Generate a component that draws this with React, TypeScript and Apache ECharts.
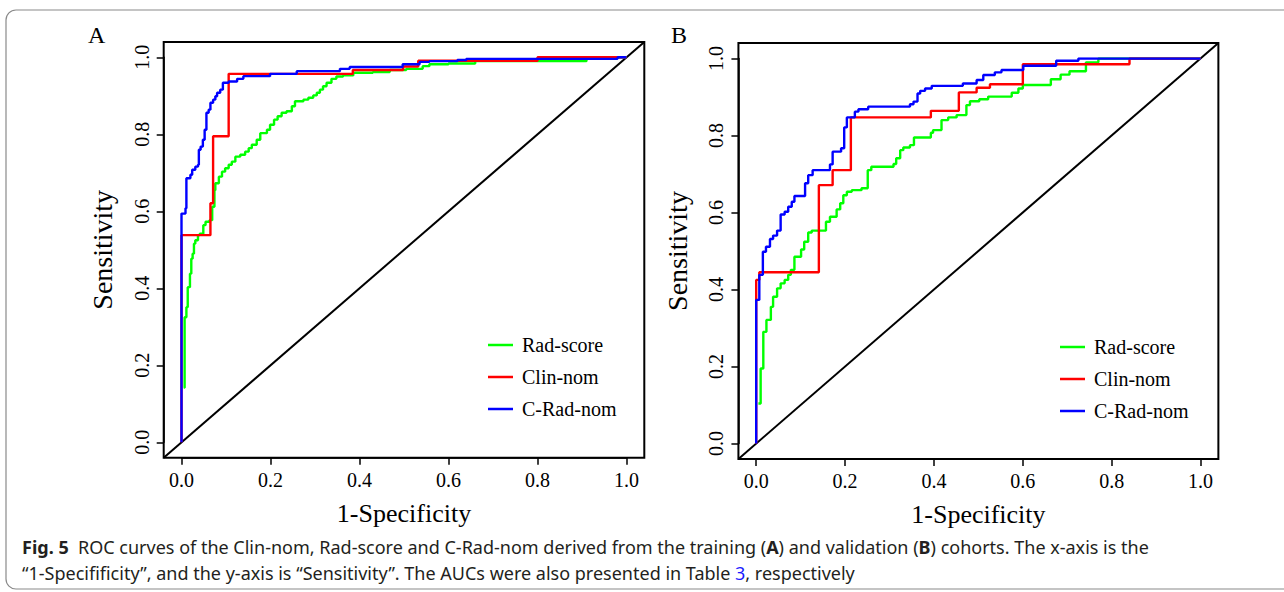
import React, { useEffect, useRef } from "react";
import * as echarts from "echarts";

// ---------- data ----------
const seriesNames = ["Rad-score", "Clin-nom", "C-Rad-nom"];
const panelLabels = ["A", "B"];
const xAxisTitle = "1-Specificity";
const yAxisTitle = "Sensitivity";
const diagonalEnds = [[-0.04, -0.04], [1.04, 1.04]];

// Panel A (training cohort): [1-specificity, sensitivity]
const radScoreA = [
  [0.005, 0.142], [0.007, 0.325], [0.011, 0.351], [0.014, 0.403], [0.019, 0.438], [0.022, 0.477],
  [0.025, 0.49], [0.028, 0.516], [0.031, 0.525], [0.037, 0.538], [0.041, 0.542], [0.049, 0.564],
  [0.054, 0.573], [0.063, 0.577], [0.069, 0.612], [0.074, 0.655], [0.076, 0.673], [0.084, 0.69],
  [0.091, 0.703], [0.098, 0.712], [0.106, 0.721], [0.113, 0.729], [0.121, 0.742], [0.132, 0.747],
  [0.143, 0.755], [0.151, 0.764], [0.158, 0.773], [0.169, 0.786], [0.177, 0.803], [0.192, 0.812],
  [0.199, 0.825], [0.208, 0.838], [0.216, 0.847], [0.225, 0.856], [0.236, 0.86], [0.248, 0.873],
  [0.255, 0.886], [0.274, 0.89], [0.285, 0.895], [0.296, 0.901], [0.304, 0.908], [0.311, 0.916],
  [0.318, 0.925], [0.326, 0.934], [0.337, 0.944], [0.348, 0.95], [0.363, 0.953], [0.386, 0.96],
  [0.43, 0.962], [0.468, 0.967], [0.505, 0.97], [0.542, 0.977], [0.557, 0.982], [0.6, 0.984],
  [0.66, 0.99], [0.91, 1.0], [1.0, 1.0],
];
const clinNomA = [
  [0, 0], [0, 0.538], [0.065, 0.621], [0.071, 0.795], [0.106, 0.957], [0.385, 0.967],
  [0.498, 0.976], [0.532, 0.991], [0.8, 1.0], [1.0, 1.0],
];
const cRadNomA = [
  [0, 0], [0, 0.594], [0.009, 0.608], [0.011, 0.686], [0.02, 0.695], [0.024, 0.708], [0.031, 0.716],
  [0.037, 0.721], [0.039, 0.76], [0.043, 0.768], [0.048, 0.786], [0.052, 0.812], [0.056, 0.856],
  [0.061, 0.864], [0.065, 0.882], [0.071, 0.89], [0.076, 0.899], [0.08, 0.908], [0.087, 0.916],
  [0.093, 0.934], [0.106, 0.937], [0.125, 0.944], [0.139, 0.951], [0.199, 0.957], [0.259, 0.964],
  [0.356, 0.97], [0.378, 0.975], [0.497, 0.982], [0.535, 0.988], [0.557, 0.99], [0.62, 0.993],
  [0.64, 0.996], [0.98, 1.0], [1.0, 1.0],
];

// Panel B (validation cohort)
const radScoreB = [
  [0.005, 0.104], [0.01, 0.195], [0.016, 0.29], [0.023, 0.321], [0.033, 0.355], [0.038, 0.381],
  [0.047, 0.403], [0.055, 0.416], [0.064, 0.425], [0.072, 0.438], [0.078, 0.451], [0.086, 0.485],
  [0.101, 0.504], [0.108, 0.524], [0.117, 0.548], [0.125, 0.553], [0.157, 0.576], [0.166, 0.589],
  [0.181, 0.608], [0.189, 0.624], [0.196, 0.645], [0.204, 0.654], [0.215, 0.658], [0.237, 0.663],
  [0.251, 0.71], [0.259, 0.719], [0.309, 0.726], [0.315, 0.741], [0.324, 0.762], [0.331, 0.769],
  [0.346, 0.775], [0.355, 0.795], [0.393, 0.807], [0.398, 0.814], [0.417, 0.84], [0.432, 0.847],
  [0.451, 0.853], [0.473, 0.879], [0.481, 0.889], [0.502, 0.894], [0.522, 0.901], [0.575, 0.911],
  [0.59, 0.922], [0.6, 0.931], [0.663, 0.946], [0.685, 0.958], [0.705, 0.967], [0.742, 0.99],
  [0.77, 1.0], [1.0, 1.0],
];
const clinNomB = [
  [0, 0], [0, 0.425], [0.007, 0.445], [0.141, 0.671], [0.172, 0.71], [0.213, 0.847], [0.393, 0.864],
  [0.456, 0.912], [0.496, 0.924], [0.526, 0.933], [0.6, 0.985], [0.84, 1.0], [1.0, 1.0],
];
const cRadNomB = [
  [0, 0], [0, 0.373], [0.007, 0.438], [0.015, 0.498], [0.022, 0.511], [0.031, 0.531], [0.038, 0.54],
  [0.047, 0.553], [0.055, 0.595], [0.064, 0.602], [0.072, 0.615], [0.08, 0.628], [0.086, 0.643],
  [0.11, 0.676], [0.117, 0.697], [0.127, 0.71], [0.166, 0.725], [0.172, 0.758], [0.191, 0.767],
  [0.198, 0.821], [0.204, 0.847], [0.222, 0.862], [0.23, 0.868], [0.252, 0.875], [0.346, 0.881],
  [0.354, 0.888], [0.363, 0.909], [0.369, 0.916], [0.38, 0.922], [0.395, 0.929], [0.465, 0.935],
  [0.496, 0.944], [0.511, 0.957], [0.537, 0.964], [0.552, 0.97], [0.601, 0.981], [0.675, 0.994],
  [0.725, 1.0], [1.0, 1.0],
];

const captionLine1 =
  "{b|Fig. 5}  ROC curves of the Clin-nom, Rad-score and C-Rad-nom derived from the training ({b|A}) and validation ({b|B}) cohorts. The x-axis is the";
const captionLine2 =
  "\u201C1-Specifificity\u201D, and the y-axis is \u201CSensitivity\u201D. The AUCs were also presented in Table {l|3}, respectively";

// ---------- styling ----------
const COLORS = ["#00ff00", "#ff0000", "#0000ff"];
const SERIF = "'Liberation Serif', 'Times New Roman', serif";
const SANS = "'Noto Sans', 'Open Sans', sans-serif";
const CAP = 18;

const panels = [
  { left: 181.5, top: 57.3, width: 445, height: 385, legendLeft: 483, legendTop: 330, labelX: 88, data: [radScoreA, clinNomA, cRadNomA] },
  { left: 756.2, top: 58.5, width: 444.4, height: 385, legendLeft: 1055, legendTop: 332, labelX: 671, data: [radScoreB, clinNomB, cRadNomB] },
];

function buildOption() {
  const grid: any[] = [];
  const xAxis: any[] = [];
  const yAxis: any[] = [];
  const series: any[] = [];
  const legend: any[] = [];
  const graphic: any[] = [
    {
      type: "rect",
      shape: { x: 6, y: 10, width: 1300, height: 579, r: 10 },
      style: { fill: "none", stroke: "#8a8a8a", lineWidth: 1.2 },
      silent: true,
    },
    {
      type: "text",
      left: 22,
      top: 538,
      style: {
        text: captionLine1,
        font: `${CAP}px ${SANS}`,
        fill: "#231f20",
        rich: {
          b: { fontWeight: "bold", fontSize: CAP, fontFamily: SANS, fill: "#231f20" },
        },
      },
    },
    {
      type: "text",
      left: 22,
      top: 564,
      style: {
        text: captionLine2,
        font: `${CAP}px ${SANS}`,
        fill: "#231f20",
        rich: {
          l: { fontSize: CAP, fontFamily: SANS, fill: "#1a1aff" },
        },
      },
    },
  ];

  panels.forEach((p, i) => {
    grid.push({ left: p.left, top: p.top, width: p.width, height: p.height, containLabel: false });
    const offX = p.height * 0.04;
    const offY = p.width * 0.04;
    xAxis.push({
      type: "value",
      gridIndex: i,
      min: 0,
      max: 1,
      interval: 0.2,
      offset: offX,
      name: xAxisTitle,
      nameLocation: "middle",
      nameGap: 43,
      nameTextStyle: { fontFamily: SERIF, fontSize: 26, color: "#000" },
      axisLine: { show: true, onZero: false, lineStyle: { color: "#000", width: 1.5 } },
      axisTick: { show: true, length: 7, lineStyle: { color: "#000", width: 1.5 } },
      axisLabel: {
        fontFamily: SERIF,
        fontSize: 20,
        color: "#000",
        margin: 12,
        formatter: (v: number) => v.toFixed(1),
      },
      splitLine: { show: false },
    });
    yAxis.push({
      type: "value",
      gridIndex: i,
      min: 0,
      max: 1,
      interval: 0.2,
      offset: offY,
      name: yAxisTitle,
      nameLocation: "middle",
      nameGap: 47,
      nameTextStyle: { fontFamily: SERIF, fontSize: 28, color: "#000" },
      axisLine: { show: true, onZero: false, lineStyle: { color: "#000", width: 1.5 } },
      axisTick: { show: true, length: 7, lineStyle: { color: "#000", width: 1.5 } },
      axisLabel: {
        fontFamily: SERIF,
        fontSize: 20,
        color: "#000",
        margin: 12,
        rotate: 90,
        formatter: (v: number) => v.toFixed(1),
      },
      splitLine: { show: false },
    });
    p.data.forEach((d, k) => {
      series.push({
        type: "line",
        name: seriesNames[k],
        xAxisIndex: i,
        yAxisIndex: i,
        data: d,
        step: "end",
        symbol: "none",
        showSymbol: false,
        color: COLORS[k],
        lineStyle: { color: COLORS[k], width: 2.4 },
        z: 2 + k,
      });
    });
    legend.push({
      data: seriesNames,
      orient: "vertical",
      left: p.legendLeft,
      top: p.legendTop,
      icon: "rect",
      itemWidth: 25,
      itemHeight: 2.5,
      itemGap: 12,
      selectedMode: false,
      textStyle: { fontFamily: SERIF, fontSize: 20, color: "#000", padding: [0, 0, 0, 4] },
    });
    graphic.push({
      type: "rect",
      shape: { x: p.left - offY, y: p.top - offX, width: p.width + 2 * offY, height: p.height + 2 * offX },
      style: { fill: "none", stroke: "#000", lineWidth: 2 },
      silent: true,
    });
    graphic.push({
      type: "text",
      left: p.labelX,
      top: 23,
      style: { text: panelLabels[i], font: `24px ${SERIF}`, fill: "#000" },
    });
  });

  return {
    animation: false,
    backgroundColor: "#fff",
    grid,
    xAxis,
    yAxis,
    series,
    legend,
    graphic,
  };
}

export default function App() {
  const ref = useRef<HTMLDivElement>(null);
  useEffect(() => {
    document.body.style.margin = "0";
    const chart = echarts.init(ref.current!, null, { renderer: "svg" });
    const option: any = buildOption();
    chart.setOption(option);
    // chance line (abline 0,1) across the whole frame, through the axes' own scales
    panels.forEach((_, i) => {
      const a = chart.convertToPixel({ gridIndex: i } as any, diagonalEnds[0]) as number[];
      const b = chart.convertToPixel({ gridIndex: i } as any, diagonalEnds[1]) as number[];
      option.graphic.push({
        type: "line",
        shape: { x1: a[0], y1: a[1], x2: b[0], y2: b[1] },
        style: { stroke: "#000", lineWidth: 2 },
        silent: true,
        z: -1,
      });
    });
    chart.setOption(option, true);
    return () => chart.dispose();
  }, []);
  return <div ref={ref} style={{ width: 1284, height: 592 }} />;
}
